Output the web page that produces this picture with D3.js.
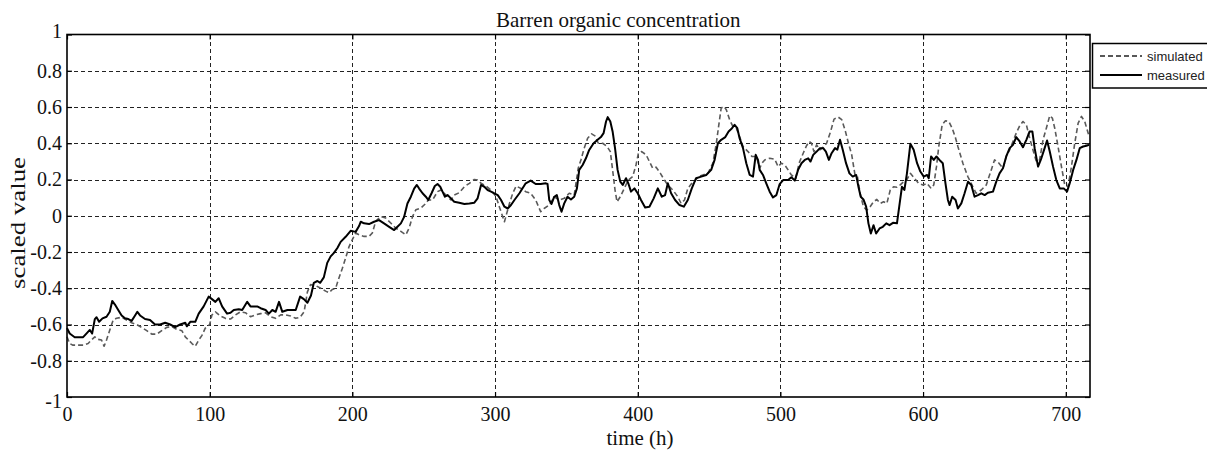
<!DOCTYPE html>
<html>
<head>
<meta charset="utf-8">
<script src="https://cdn.jsdelivr.net/npm/d3@7"></script>
<style>
  html, body { margin: 0; padding: 0; background: #fff; }
  svg { display: block; }
</style>
</head>
<body>
<svg id="chart" width="1207" height="450"></svg>
<script>
// Barren organic concentration: simulated vs measured (scaled)
const xTicks = [0, 100, 200, 300, 400, 500, 600, 700];
const yTicks = [-1, -0.8, -0.6, -0.4, -0.2, 0, 0.2, 0.4, 0.6, 0.8, 1];
const yTickLabels = ["-1", "-0.8", "-0.6", "-0.4", "-0.2", "0", "0.2", "0.4", "0.6", "0.8", "1"];
const seriesNames = ["simulated", "measured"];

const measuredTime = [0,1.9,5.4,11.3,13.6,16,17.6,19.5,20.7,22.5,24.9,27.7,30,31.7,33.6,35.9,38.3,40.6,43,45.3,47.7,49.3,51.2,54.7,58.2,61.7,65.3,68.8,72.3,75.8,79.3,82.9,84,86.4,89.9,92.3,95.8,99.3,101.6,104,106.3,108.7,112.2,114.6,116.9,120.4,122.8,126.3,128.6,131,133.3,135.7,139.2,141.5,143.9,146.2,148.6,150.9,154.5,156.8,160.3,163.4,166,168.5,171,173,175.5,177.5,180,182.4,184.8,187.1,189.5,191.8,195.3,198.8,202.3,204.7,205.9,208.2,211.7,215.2,218.7,222.2,225.8,229.3,231.6,234,236.3,238.6,241,243.3,245.2,246.8,249.2,251.5,253.2,255.5,257.8,259.7,261.6,263.2,264.9,266.7,269.1,271.4,274.9,278.5,282,285.5,287.8,290.2,292.5,294.8,297.2,299.5,301.9,304.2,306.6,308.9,311.2,313.6,317.1,321.5,325,328.5,332,335.6,336.8,338,339.6,341.5,343.3,345,346.6,348.5,350.8,353.2,355.5,357.4,359,361.4,363.7,366,369.1,371.9,374.2,376.1,377.8,379,380.8,382.4,384.1,385.9,387.8,389.5,391.8,393.4,395.3,397.7,400,402.3,405.2,408.2,411.2,414.1,416.9,419.2,421.1,423.4,426.2,429.3,432.3,435.1,437.9,440.9,444.5,448,451.5,453.9,456.2,458.5,461.4,463.7,466.1,467.9,469.8,471.4,473.8,476.1,478.5,480.8,482.7,484.3,485.5,487.8,490.1,492.5,494.8,497.2,499.5,501.9,505.4,507.7,510.1,512.4,514.8,517.1,519.5,521.1,523,525.4,527.7,530,531.9,534,535.9,538.3,539.9,541.8,543.7,546,548.4,550.7,553.1,554.7,556.3,558.2,560.1,561.7,563.4,565.3,567.1,569.5,571.8,574.2,576.5,578.9,581.7,583.6,585.2,586.9,588.7,591.1,593.4,595.8,598.1,600.5,602.8,604,605.6,607.5,609.4,611.5,613.8,615.7,617.4,618.6,620.4,622.8,624.4,626.8,629.1,631.5,633.8,636.1,638.5,640.8,643.2,645.4,649,651.3,653.6,656,658.3,660.7,663,665.3,667.7,670,672.4,674.7,676.6,678.2,680.6,682.9,685.2,686.9,688.8,691.1,693.4,695.8,698.6,700.9,702.8,705.2,707.5,709.8,712.2,714.5,716.4];
const measuredValue = [-0.62,-0.65,-0.67,-0.67,-0.65,-0.63,-0.65,-0.57,-0.56,-0.585,-0.566,-0.557,-0.53,-0.47,-0.49,-0.52,-0.55,-0.566,-0.57,-0.58,-0.55,-0.53,-0.55,-0.57,-0.575,-0.6,-0.6,-0.59,-0.6,-0.615,-0.6,-0.59,-0.61,-0.585,-0.585,-0.54,-0.5,-0.446,-0.46,-0.475,-0.455,-0.5,-0.54,-0.535,-0.52,-0.516,-0.52,-0.475,-0.5,-0.5,-0.5,-0.51,-0.52,-0.54,-0.52,-0.53,-0.475,-0.53,-0.52,-0.52,-0.52,-0.446,-0.46,-0.48,-0.44,-0.37,-0.36,-0.37,-0.34,-0.26,-0.224,-0.205,-0.178,-0.144,-0.116,-0.083,-0.089,-0.057,-0.033,-0.042,-0.046,-0.033,-0.024,-0.042,-0.061,-0.079,-0.061,-0.042,-0.006,0.068,0.105,0.15,0.17,0.15,0.124,0.105,0.087,0.124,0.164,0.175,0.16,0.133,0.105,0.114,0.096,0.077,0.072,0.065,0.068,0.072,0.096,0.17,0.16,0.142,0.133,0.124,0.114,0.087,0.05,0.04,0.059,0.087,0.124,0.179,0.194,0.175,0.175,0.179,0.175,0.087,0.065,0.105,0.114,0.059,0.022,0.068,0.105,0.09,0.105,0.151,0.253,0.28,0.317,0.363,0.4,0.419,0.434,0.456,0.52,0.544,0.52,0.465,0.373,0.253,0.188,0.17,0.207,0.179,0.133,0.151,0.124,0.087,0.046,0.05,0.096,0.151,0.105,0.114,0.179,0.124,0.087,0.059,0.05,0.087,0.151,0.207,0.216,0.225,0.253,0.308,0.4,0.419,0.434,0.465,0.483,0.502,0.483,0.428,0.373,0.29,0.225,0.216,0.336,0.308,0.253,0.225,0.179,0.133,0.101,0.114,0.175,0.197,0.197,0.212,0.194,0.253,0.29,0.308,0.317,0.299,0.336,0.354,0.373,0.373,0.354,0.308,0.345,0.373,0.364,0.419,0.364,0.29,0.234,0.216,0.225,0.16,0.105,0.09,0.05,-0.042,-0.098,-0.052,-0.098,-0.07,-0.061,-0.042,-0.052,-0.039,-0.042,0.068,0.16,0.142,0.234,0.397,0.364,0.29,0.244,0.216,0.225,0.207,0.327,0.308,0.327,0.308,0.29,0.179,0.087,0.059,0.105,0.087,0.04,0.068,0.124,0.188,0.17,0.105,0.114,0.124,0.114,0.127,0.133,0.188,0.234,0.262,0.327,0.373,0.391,0.434,0.41,0.378,0.419,0.465,0.465,0.373,0.271,0.317,0.373,0.415,0.354,0.271,0.197,0.151,0.151,0.133,0.179,0.253,0.308,0.373,0.382,0.386,0.391];

const simulatedTime = [0,1.9,4.2,7.7,11.3,14.8,17.1,19.5,21.8,24.2,26,27.7,30,32.4,34.7,38.3,41.8,45.3,48.8,52.4,55.9,59.4,62.9,66.4,69.9,73.5,77,80.5,82.9,85.2,87.6,89.9,92.3,94.6,96.9,100,101.6,104,107.5,111,114.6,118.1,121.6,125.1,128.6,132.2,135.7,139.2,142.7,146.2,149.8,153.3,156.8,160.3,163.4,166.2,168.5,170.7,174.2,177.8,181.3,183.6,185.9,188.3,190.6,193,195.3,197.7,200,202.3,204.7,208.2,211.7,214,216.4,219.9,223.4,226.9,230.4,234,237.5,239.8,242.2,244.5,248,251.5,253.2,256.2,259.7,262.1,264.4,266.7,269.1,271.4,274.9,278.5,282,285.5,287.8,290.2,293.7,297.2,300.7,303,305.4,306.6,308.2,310.1,312.4,314.8,318.3,321.5,325,328.5,332,334.4,338,341.5,345,348.5,352,355.5,358.3,360.2,362.5,364.9,367.7,370,372.4,375.4,378.5,380.8,382.4,384.1,385.5,387.8,390.6,393.4,396.5,398.8,400.5,402.8,405.9,408.2,410.5,412.9,415.9,418.7,421.1,424.6,428.1,430.4,432.8,435.1,437.5,439.9,442.2,445.7,449.2,452.7,455.1,456.7,458.5,460.4,462.1,464.4,466.7,469.1,471.4,473.8,477.3,480.1,483.1,485.5,487.1,489,492.5,496,498.4,500.7,503.1,505.4,507.7,510.8,513.1,516,518.3,520.2,521.8,523.5,525.4,527.7,530,532.4,535.2,537.6,540.6,543,545.3,547.7,550,552.3,554,555.9,558.2,560.6,562.9,565.3,567.6,570,572.3,574.6,577,579.3,581.7,584,586.4,588.7,591.1,593.9,596.9,600,602.8,605.6,607.5,609.4,611,613.4,615.7,618.1,620.4,622.8,624.4,627.9,631.4,634.9,637.2,640.8,644.3,647.8,650.1,653.2,656,658.3,660.7,663,665.3,667.7,670,672.4,674.7,677,679.4,681.7,684.1,686.4,688.8,690.6,692.3,694.6,697,699.3,701.6,704,706.3,708.7,711,713.3,716.4];
const simulatedValue = [-0.668,-0.705,-0.714,-0.714,-0.714,-0.705,-0.686,-0.668,-0.682,-0.686,-0.72,-0.686,-0.63,-0.575,-0.566,-0.56,-0.575,-0.59,-0.6,-0.616,-0.634,-0.653,-0.653,-0.634,-0.616,-0.612,-0.627,-0.634,-0.668,-0.686,-0.705,-0.72,-0.686,-0.66,-0.62,-0.6,-0.547,-0.53,-0.553,-0.566,-0.57,-0.547,-0.53,-0.535,-0.557,-0.547,-0.54,-0.536,-0.557,-0.566,-0.547,-0.547,-0.553,-0.566,-0.56,-0.53,-0.42,-0.38,-0.385,-0.4,-0.416,-0.425,-0.407,-0.4,-0.343,-0.29,-0.233,-0.17,-0.132,-0.095,-0.105,-0.114,-0.114,-0.095,-0.03,-0.004,-0.013,-0.04,-0.068,-0.086,-0.105,-0.068,-0.004,0.033,0.042,0.068,0.087,0.087,0.133,0.142,0.124,0.105,0.087,0.114,0.127,0.16,0.179,0.2,0.197,0.179,0.164,0.142,0.105,0.05,-0.006,-0.033,0.013,0.068,0.124,0.164,0.15,0.133,0.124,0.087,0.022,0.04,0.059,0.105,0.087,0.096,0.124,0.114,0.262,0.308,0.373,0.428,0.452,0.441,0.4,0.4,0.382,0.354,0.253,0.142,0.077,0.105,0.151,0.197,0.216,0.28,0.345,0.354,0.336,0.299,0.262,0.268,0.234,0.197,0.17,0.142,0.105,0.068,0.087,0.151,0.175,0.188,0.216,0.225,0.234,0.29,0.4,0.493,0.594,0.603,0.585,0.53,0.493,0.483,0.437,0.382,0.354,0.327,0.327,0.262,0.29,0.308,0.317,0.312,0.271,0.29,0.28,0.253,0.225,0.207,0.29,0.345,0.386,0.41,0.4,0.354,0.391,0.364,0.378,0.4,0.465,0.533,0.544,0.53,0.474,0.4,0.336,0.225,0.216,0.124,0.05,0.031,0.05,0.077,0.09,0.068,0.077,0.068,0.142,0.16,0.157,0.17,0.188,0.2,0.234,0.207,0.179,0.17,0.179,0.151,0.17,0.271,0.382,0.502,0.524,0.52,0.483,0.428,0.382,0.29,0.216,0.16,0.124,0.142,0.17,0.253,0.308,0.29,0.262,0.327,0.364,0.41,0.456,0.496,0.52,0.502,0.428,0.364,0.299,0.308,0.419,0.483,0.552,0.539,0.483,0.382,0.271,0.17,0.16,0.271,0.4,0.511,0.548,0.52,0.437];

const svg = d3.select("#chart");
const W = 1207, H = 450;
const plot = { left: 67, right: 1090, top: 34.5, bottom: 397 };

const x = d3.scaleLinear().domain([0, 717]).range([plot.left, plot.right]);
const y = d3.scaleLinear().domain([-1, 1]).range([plot.bottom, plot.top]);

svg.append("rect").attr("width", W).attr("height", H).attr("fill", "#fff");

// dashed grid
const grid = svg.append("g").attr("stroke", "#222").attr("stroke-width", 1)
  .attr("stroke-dasharray", "4,3").attr("shape-rendering", "crispEdges");
grid.selectAll("line.h").data(yTicks.filter(d => d > -1 && d < 1)).join("line")
  .attr("class", "h")
  .attr("x1", plot.left).attr("x2", plot.right)
  .attr("y1", d => Math.round(y(d)) + 0.5).attr("y2", d => Math.round(y(d)) + 0.5);
grid.selectAll("line.v").data(xTicks.filter(d => d > 0)).join("line")
  .attr("class", "v")
  .attr("y1", plot.top).attr("y2", plot.bottom)
  .attr("x1", d => Math.round(x(d)) + 0.5).attr("x2", d => Math.round(x(d)) + 0.5);

// series
const toPoints = (ts, vs) => ts.map((t, i) => [t, vs[i]]);
const line = d3.line().x(d => x(d[0])).y(d => y(d[1]));

svg.append("path")
  .datum(toPoints(simulatedTime, simulatedValue))
  .attr("fill", "none").attr("stroke", "#5a5a5a").attr("stroke-width", 1.6)
  .attr("stroke-dasharray", "5,3").attr("stroke-linejoin", "round")
  .attr("d", line);

svg.append("path")
  .datum(toPoints(measuredTime, measuredValue))
  .attr("fill", "none").attr("stroke", "#000").attr("stroke-width", 2)
  .attr("stroke-linejoin", "round")
  .attr("d", line);

// axes (ticks inward on all sides)
const tickLen = 5;
const axisFont = "'Liberation Serif', 'Times New Roman', serif";
const yAxisL = d3.axisLeft(y).tickValues(yTicks).tickSize(-tickLen)
  .tickFormat((d, i) => yTickLabels[i]).tickPadding(5);
const yAxisR = d3.axisRight(y).tickValues(yTicks).tickSize(-tickLen).tickFormat("");
const xAxisB = d3.axisBottom(x).tickValues(xTicks).tickSize(-tickLen).tickPadding(10);
const xAxisT = d3.axisTop(x).tickValues(xTicks).tickSize(-tickLen).tickFormat("");

function styleAxis(g) {
  g.select(".domain").remove();
  g.selectAll("line").attr("stroke", "#000").attr("stroke-width", 1.2);
  g.selectAll("text").attr("fill", "#111").style("font-family", axisFont).style("font-size", "20px");
}
const gYL = svg.append("g").attr("transform", `translate(${plot.left},0)`).call(yAxisL).call(styleAxis);
// end labels sit slightly outside their ticks
gYL.selectAll(".tick text").filter(d => d === -1).attr("y", 4);
gYL.selectAll(".tick text").filter(d => d === 1).attr("y", -3);
svg.append("g").attr("transform", `translate(${plot.right},0)`).call(yAxisR).call(styleAxis);
svg.append("g").attr("transform", `translate(0,${plot.bottom})`).call(xAxisB).call(styleAxis);
svg.append("g").attr("transform", `translate(0,${plot.top})`).call(xAxisT).call(styleAxis);

// frame
svg.append("rect")
  .attr("x", plot.left).attr("y", plot.top)
  .attr("width", plot.right - plot.left).attr("height", plot.bottom - plot.top)
  .attr("fill", "none").attr("stroke", "#000").attr("stroke-width", 1.6);

// titles
svg.append("text").attr("x", 496).attr("y", 27)
  .attr("text-anchor", "start").style("font-family", axisFont).style("font-size", "21px")
  .attr("fill", "#111").text("Barren organic concentration");
svg.append("text").attr("x", 640).attr("y", 445)
  .attr("text-anchor", "middle").style("font-family", axisFont).style("font-size", "21px")
  .attr("fill", "#111").text("time (h)");
svg.append("text")
  .attr("transform", "translate(25,223) rotate(-90)")
  .attr("text-anchor", "middle").style("font-family", axisFont).style("font-size", "20px")
  .attr("textLength", 132).attr("lengthAdjust", "spacingAndGlyphs")
  .attr("fill", "#111").text("scaled value");

// legend
const legend = svg.append("g");
legend.append("rect").attr("x", 1092.5).attr("y", 43.5).attr("width", 130).attr("height", 44.5)
  .attr("fill", "#fff").attr("stroke", "#000").attr("stroke-width", 1.5);
const legendStyles = [
  { dash: "5,3", color: "#222", width: 1.6 },
  { dash: null, color: "#000", width: 1.8 }
];
seriesNames.forEach((name, i) => {
  const cy = 56 + i * 19;
  legend.append("line").attr("x1", 1100).attr("x2", 1142).attr("y1", cy).attr("y2", cy)
    .attr("stroke", legendStyles[i].color).attr("stroke-width", legendStyles[i].width)
    .attr("stroke-dasharray", legendStyles[i].dash);
  legend.append("text").attr("x", 1147).attr("y", cy + 4.5)
    .style("font-family", "'Liberation Sans', Arial, sans-serif").style("font-size", "13px")
    .attr("fill", "#222").text(name);
});
</script>
</body>
</html>
